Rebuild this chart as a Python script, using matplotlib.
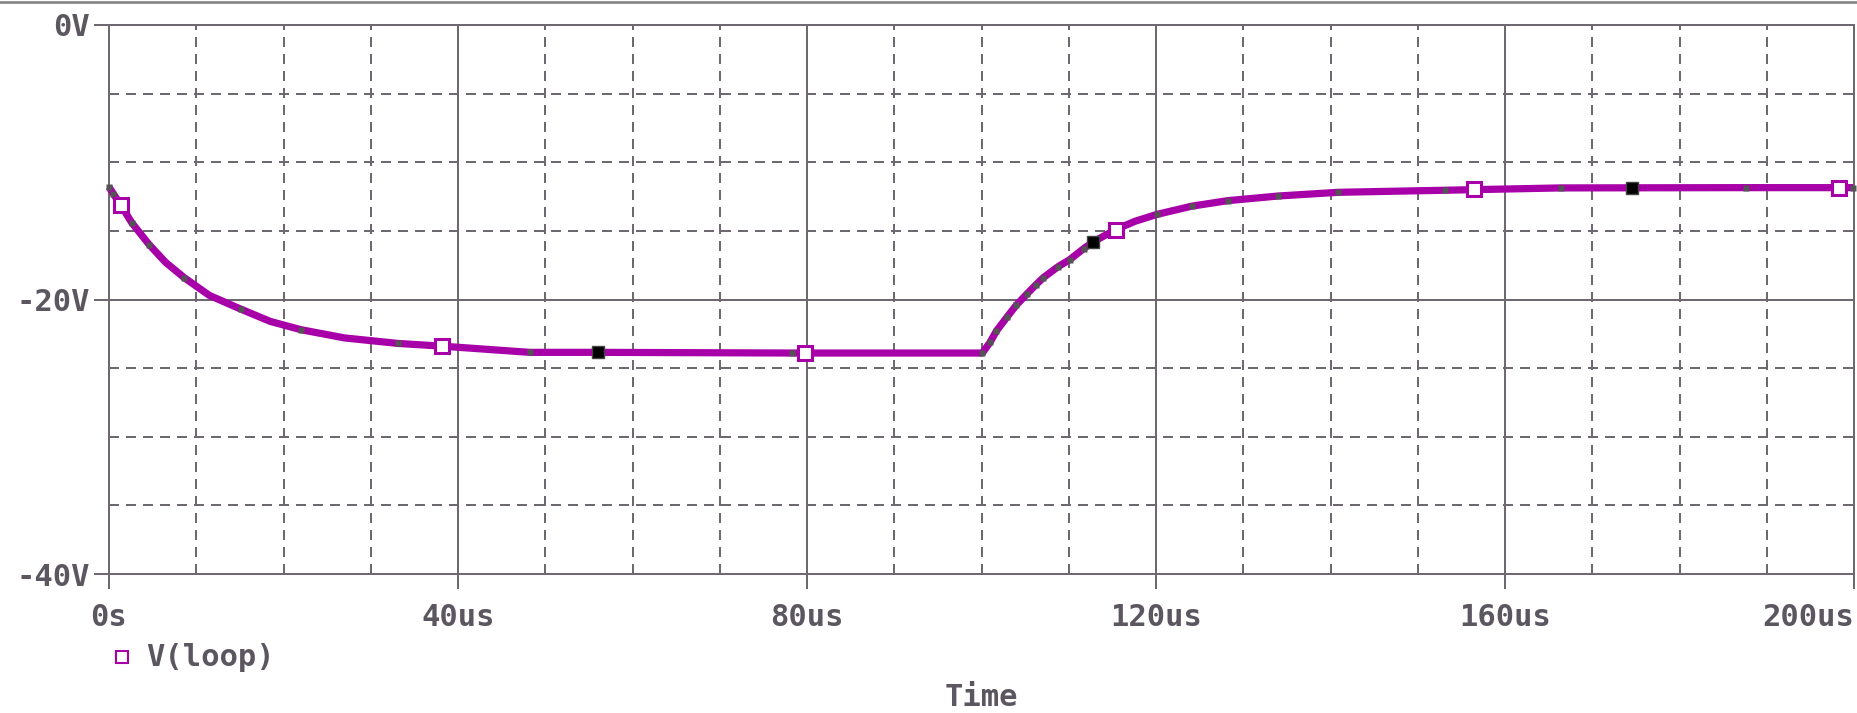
import matplotlib
matplotlib.use("Agg")
import matplotlib.pyplot as plt
from matplotlib.ticker import MultipleLocator
from matplotlib.lines import Line2D

# trace V(loop) (time in us, volts)
t_us = [0.0, 0.5, 1.34, 2.6, 4.6, 6.5, 8.6, 11.5, 15.1, 18.5, 22.0, 27.0, 33.1, 38.2, 48.2,
        56.1, 78.3, 100.1,
        101.0, 101.7, 102.9, 104.0, 105.2, 106.2, 107.1, 108.8, 110.1, 111.7, 112.8,
        115.4, 117.6, 120.1, 124.1, 128.2, 134.0, 140.9, 153.1, 166.4, 187.6, 199.9]
v_loop = [-11.8, -12.3, -13.1, -14.4, -16.0, -17.3, -18.4, -19.7, -20.7, -21.6, -22.2, -22.8, -23.2, -23.4, -23.85,
          -23.85, -23.9, -23.9,
          -23.1, -22.3, -21.3, -20.4, -19.6, -18.95, -18.4, -17.6, -17.1, -16.3, -15.8,
          -14.9, -14.3, -13.8, -13.2, -12.8, -12.46, -12.19, -12.04, -11.87, -11.85, -11.85]

# simulation points shown as small dots
dot_t = [0.0, 0.5, 2.6, 4.6, 8.6, 15.1, 22.0, 33.1, 48.2, 78.3, 100.1, 101.0, 101.7, 102.9,
         104.0, 105.2, 106.2, 107.1, 108.8, 110.1, 111.7, 120.1, 124.1, 128.2, 134.0, 140.9,
         153.1, 166.4, 187.6, 199.9]
dot_v = [-11.8, -12.3, -14.4, -16.0, -18.4, -20.7, -22.2, -23.2, -23.85, -23.9, -23.9, -23.1,
         -22.3, -21.3, -20.4, -19.6, -18.95, -18.4, -17.6, -17.1, -16.3, -13.8, -13.2, -12.8,
         -12.46, -12.19, -12.04, -11.87, -11.85, -11.85]

# symbol markers on the trace
open_t = [1.34, 38.2, 79.8, 115.4, 156.5, 198.3]
open_v = [-13.1, -23.4, -23.9, -14.9, -11.95, -11.85]
black_t = [56.1, 112.8, 174.5]
black_v = [-23.85, -15.8, -11.85]

x_ticks = [0, 40, 80, 120, 160, 200]
x_labels = ["0s", "40us", "80us", "120us", "160us", "200us"]
y_ticks = [0, -20, -40]
y_labels = ["0V", "-20V", "-40V"]

purple = "#a800a8"
gray = "#6e6870"
txt_col = "#5c5660"
fnt = dict(family="DejaVu Sans Mono", size=22, weight="bold", color=txt_col)

fig = plt.figure(figsize=(18.57, 7.13), dpi=100)
ax = fig.add_axes([109 / 1857, 1 - 574 / 713, (1854 - 109) / 1857, (574 - 25) / 713])
ax.set_xlim(0, 200)
ax.set_ylim(-40, 0)

# grid: solid majors, dashed minors
ax.xaxis.set_minor_locator(MultipleLocator(10))
ax.yaxis.set_minor_locator(MultipleLocator(5))
ax.set_xticks(x_ticks)
ax.set_yticks(y_ticks)
ax.grid(True, which="major", color=gray, lw=1.44, ls="-")
ax.grid(True, which="minor", color=gray, lw=1.44, ls=(0, (5, 3.5)))
ax.set_axisbelow(True)

for s in ax.spines.values():
    s.set_color(gray)
    s.set_linewidth(1.44)

ax.set_xticklabels(x_labels, fontdict=fnt)
ax.set_yticklabels(y_labels, fontdict=fnt)
ax.tick_params(which="major", direction="out", length=11, width=1.44, color=gray)
ax.tick_params(axis="x", which="major", pad=10)
ax.tick_params(axis="y", which="major", pad=3)
ax.tick_params(which="minor", direction="in", length=6.5, width=1.44, color=gray)
ax.get_xticklabels()[-1].set_horizontalalignment("right")

# trace
ax.plot(t_us, v_loop, color=purple, lw=5.2, solid_capstyle="butt", zorder=3, clip_on=False)
ax.plot(dot_t, dot_v, ls="none", marker="s", ms=4, color="#545454", mec="none", zorder=4, clip_on=False)
ax.plot(open_t, open_v, ls="none", marker="s", ms=10.5, mfc="white", mec=purple, mew=2.2, zorder=5, clip_on=False)
ax.plot(black_t, black_v, ls="none", marker="s", ms=9, mfc="black", mec="#444444", mew=1, zorder=5, clip_on=False)

# legend and x title
fig.add_artist(Line2D([121.5 / 1857], [1 - 657 / 713], marker="s", ms=9, mfc="white", mec=purple,
                      mew=1.5, ls="none", transform=fig.transFigure))
fig.text(146 / 1857, 1 - 657 / 713, "V(loop)", ha="left", va="center", **fnt)
fig.text(981 / 1857, 1 - 698 / 713, "Time", ha="center", va="center", **fnt)

# window border at the top
fig.add_artist(Line2D([0, 1], [1 - 2 / 713, 1 - 2 / 713], color="#8a8a8a", lw=2, transform=fig.transFigure))

fig.savefig("out.png", dpi=100, facecolor="white")
